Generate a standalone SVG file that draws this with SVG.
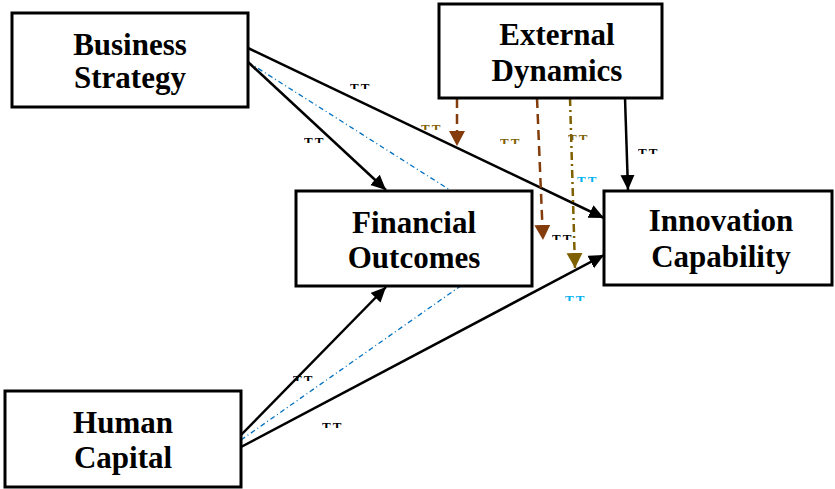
<svg xmlns="http://www.w3.org/2000/svg" width="835" height="489" viewBox="0 0 835 489">
<style>
.box{fill:#fff;stroke:#000;stroke-width:3}
.lbl{font-family:"Liberation Serif","Times New Roman",serif;font-weight:bold;font-size:31px;text-anchor:middle;fill:#000}
.c{fill:none;stroke-width:2.5}
.k{stroke:#000}
.blue{stroke:#0070C0;stroke-width:1.3;stroke-dasharray:5 3 1 3;fill:none}
.brown{stroke:#843C0C;stroke-width:2.5;stroke-dasharray:10 6;fill:none}
.olive{stroke:#7F6000;stroke-width:2.5;stroke-dasharray:8 4 2 4;fill:none}
.t{font-family:"Liberation Serif","Times New Roman",serif;font-weight:bold;font-size:13px;letter-spacing:2px;clip-path:url(#top)}
</style>
<defs>
<clipPath id="top" clipPathUnits="objectBoundingBox"><rect x="0" y="0" width="1" height="0.6"/></clipPath>
<marker id="ak" markerUnits="userSpaceOnUse" markerWidth="16" markerHeight="16" refX="15" refY="7" orient="auto"><path d="M0,0 L15,7 L0,14 z" fill="#000"/></marker>
<marker id="ab" markerUnits="userSpaceOnUse" markerWidth="16" markerHeight="18" refX="15" refY="8" orient="auto"><path d="M0,0 L15,8 L0,16 z" fill="#843C0C"/></marker>
<marker id="ao" markerUnits="userSpaceOnUse" markerWidth="16" markerHeight="18" refX="15" refY="8" orient="auto"><path d="M0,0 L15,8 L0,16 z" fill="#7F6000"/></marker>
</defs>
<g id="connectors">
<line class="blue" x1="248" y1="62" x2="450" y2="190"/>
<line class="blue" x1="241" y1="440" x2="462" y2="285"/>
<line class="c k" x1="248" y1="62" x2="386" y2="190" marker-end="url(#ak)"/>
<line class="c k" x1="248" y1="48" x2="604" y2="218" marker-end="url(#ak)"/>
<line class="c k" x1="625" y1="98" x2="628" y2="190" marker-end="url(#ak)"/>
<line class="c k" x1="241" y1="435" x2="386" y2="287" marker-end="url(#ak)"/>
<line class="c k" x1="241" y1="447" x2="604" y2="255" marker-end="url(#ak)"/>
<line class="brown" x1="457" y1="98" x2="457" y2="146" marker-end="url(#ab)"/>
<line class="brown" x1="537" y1="98" x2="543" y2="240" marker-end="url(#ab)"/>
<line class="olive" x1="570" y1="98" x2="575" y2="268" marker-end="url(#ao)"/>
</g>
<g id="business-strategy"><rect class="box" x="12" y="13" width="236" height="94"/><text class="lbl" x="130" y="55">Business</text><text class="lbl" x="130" y="88">Strategy</text></g>
<g id="external-dynamics"><rect class="box" x="439" y="4" width="223" height="94"/><text class="lbl" x="557" y="45">External</text><text class="lbl" x="557" y="81">Dynamics</text></g>
<g id="financial-outcomes"><rect class="box" x="296" y="191" width="236" height="95"/><text class="lbl" x="414" y="233">Financial</text><text class="lbl" x="414" y="268">Outcomes</text></g>
<g id="innovation-capability"><rect class="box" x="604" y="191" width="228" height="94"/><text class="lbl" x="721" y="231">Innovation</text><text class="lbl" x="721" y="267">Capability</text></g>
<g id="human-capital"><rect class="box" x="5" y="391" width="236" height="96"/><text class="lbl" x="123" y="433">Human</text><text class="lbl" x="123" y="468">Capital</text></g>
<g id="labels">
<text class="t" x="350" y="92" fill="#000">TT</text>
<text class="t" x="304" y="146" fill="#000">TT</text>
<text class="t" x="421" y="133" fill="#7F6000">TT</text>
<text class="t" x="500" y="147" fill="#7F6000">TT</text>
<text class="t" x="568" y="143" fill="#7F6000">TT</text>
<text class="t" x="577" y="185" fill="#00B0F0">TT</text>
<text class="t" x="552" y="243" fill="#000">TT</text>
<text class="t" x="565" y="304" fill="#00B0F0">TT</text>
<text class="t" x="638" y="157" fill="#000">TT</text>
<text class="t" x="293" y="384" fill="#000">TT</text>
<text class="t" x="322" y="431" fill="#000">TT</text>
</g>
</svg>
